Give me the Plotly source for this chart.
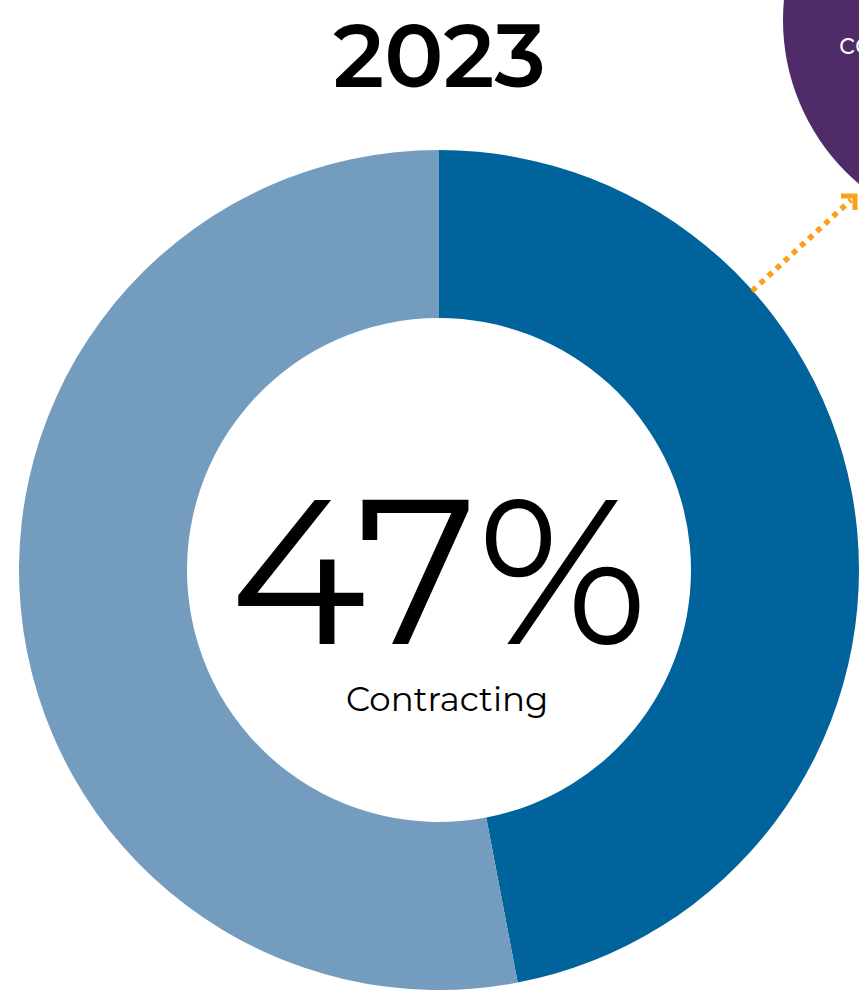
import plotly.graph_objects as go

# Survey share for 2023
labels = ["Contracting", "Not contracting"]
values = [47, 53]
colors = ["#00639B", "#739CBE"]
year_label = "2023"
center_value = "47%"
center_caption = "Contracting"

W, H = 859, 995


def px(x):
    return x / W


def py(y):
    return 1 - y / H


# donut geometry (pixels)
cx, cy, r = 439, 570, 420

fig = go.Figure(
    go.Pie(
        labels=labels,
        values=values,
        marker=dict(colors=colors, line=dict(width=0)),
        hole=0.6,
        sort=False,
        direction="clockwise",
        rotation=0,
        textinfo="none",
        hoverinfo="label+percent",
        showlegend=False,
        domain=dict(x=[px(cx - r), px(cx + r)], y=[py(cy + r), py(cy - r)]),
    )
)

orange = "#F9A11B"
shapes = [
    # purple callout bubble, mostly off-page
    dict(
        type="circle", xref="paper", yref="paper",
        x0=px(998 - 215), x1=px(998 + 215), y0=py(20 + 215), y1=py(20 - 215),
        fillcolor="#4F2B68", line=dict(width=0), layer="below",
    ),
    # dotted connector
    dict(
        type="line", xref="paper", yref="paper",
        x0=px(752), y0=py(291), x1=px(851), y1=py(200),
        line=dict(color=orange, width=5.5, dash="dot"),
    ),
    # arrowhead
    dict(
        type="path", xref="paper", yref="paper",
        path=f"M {px(841)} {py(196)} L {px(855)} {py(196)} L {px(855)} {py(210)}",
        line=dict(color=orange, width=5),
    ),
]

annotations = [
    dict(
        text=year_label, x=px(439), y=py(55), xref="paper", yref="paper",
        showarrow=False,
        font=dict(family="Montserrat, Open Sans, sans-serif", size=88, color="#000000", weight=600),
        xanchor="center", yanchor="middle",
    ),
    dict(
        text=center_value, x=px(439), y=py(570), xref="paper", yref="paper",
        showarrow=False, font=dict(family="Montserrat, Lato, sans-serif", size=206, color="#000000"),
        xanchor="center", yanchor="middle",
    ),
    dict(
        text=center_caption, x=px(447), y=py(699), xref="paper", yref="paper",
        showarrow=False, font=dict(family="Montserrat, Open Sans, sans-serif", size=34, color="#000000"),
        xanchor="center", yanchor="middle",
    ),
    dict(
        text="co", x=px(837), y=py(43), xref="paper", yref="paper",
        showarrow=False, font=dict(family="Montserrat, Open Sans, sans-serif", size=29, color="#FFFFFF"),
        xanchor="left", yanchor="middle",
    ),
]

fig.update_layout(
    width=W, height=H,
    margin=dict(l=0, r=0, t=0, b=0),
    paper_bgcolor="#FFFFFF",
    plot_bgcolor="#FFFFFF",
    shapes=shapes,
    annotations=annotations,
)

fig.write_html("out.html", config={"displayModeBar": False})
